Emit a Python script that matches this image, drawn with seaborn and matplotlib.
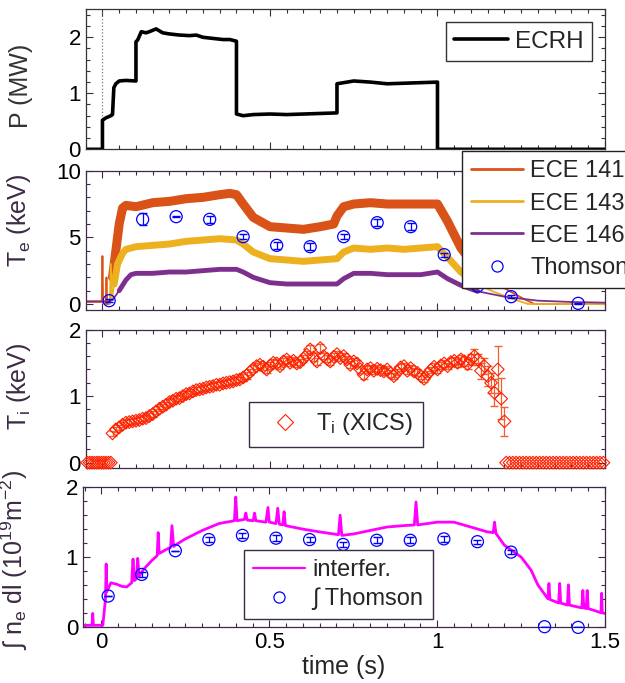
import numpy as np
import pandas as pd
import matplotlib
matplotlib.use('Agg')
import matplotlib.pyplot as plt
import seaborn as sns
from matplotlib.lines import Line2D
from matplotlib.ticker import MultipleLocator

# ECRH power (MW)
ecrh_t = [-0.05, 0.0, 0.0, 0.01, 0.025, 0.03, 0.034, 0.04, 0.05, 0.07, 0.1, 0.1, 0.105, 0.116, 0.13,
          0.14, 0.16, 0.18, 0.2, 0.23, 0.26, 0.28, 0.3, 0.33, 0.36, 0.38, 0.4, 0.4, 0.42, 0.45,
          0.5, 0.55, 0.6, 0.65, 0.7, 0.7, 0.72, 0.75, 0.8, 0.85, 0.9, 0.95, 1.0, 1.0, 1.5]
ecrh_p = [0, 0, 0.52, 0.56, 0.6, 0.62, 1.1, 1.17, 1.22, 1.23, 1.22, 1.92, 1.95, 2.1, 2.08,
          2.1, 2.15, 2.08, 2.06, 2.04, 2.03, 2.04, 2.0, 1.98, 1.96, 1.96, 1.93, 0.63, 0.6, 0.62,
          0.63, 0.62, 0.63, 0.64, 0.65, 1.17, 1.19, 1.22, 1.2, 1.17, 1.18, 1.19, 1.2, 0.0, 0.0]

# ECE electron temperature (keV)
ece141_t = [-0.05, -0.002, 0.0, 0.002, 0.01, 0.012, 0.014, 0.02, 0.03, 0.04, 0.05, 0.06, 0.07, 0.1, 0.15,
            0.2, 0.25, 0.3, 0.35, 0.38, 0.4, 0.42, 0.45, 0.5, 0.55, 0.6, 0.65, 0.69, 0.7, 0.72,
            0.75, 0.8, 0.85, 0.9, 0.95, 1.0, 1.03, 1.07, 1.12, 1.17, 1.22, 1.26, 1.29, 1.5]
ece141_v = [0.15, 0.15, 3.6, 0.1, 0.0, 2.0, 0.0, 0.0, 2.0, 4.0, 6.0, 7.2, 7.4, 7.3, 7.6,
            7.7, 7.9, 8.0, 8.2, 8.3, 8.2, 7.5, 6.5, 5.8, 5.7, 5.6, 5.8, 6.0, 6.6, 7.3,
            7.5, 7.6, 7.5, 7.5, 7.5, 7.5, 6.2, 4.2, 2.6, 1.6, 0.9, 0.35, 0.0, 0.0]
ece143_t = [-0.05, 0.018, 0.022, 0.025, 0.028, 0.035, 0.045, 0.06, 0.07, 0.1, 0.15, 0.2, 0.25,
            0.3, 0.35, 0.4, 0.42, 0.45, 0.5, 0.55, 0.6, 0.65, 0.7, 0.72, 0.75, 0.8, 0.85,
            0.9, 0.95, 1.0, 1.03, 1.07, 1.12, 1.16, 1.2, 1.24, 1.27, 1.5]
ece143_v = [0.2, 0.2, 0.0, 3.0, 0.3, 1.5, 3.0, 3.8, 4.1, 4.3, 4.4, 4.5, 4.7,
            4.8, 4.9, 4.8, 4.5, 3.9, 3.4, 3.3, 3.2, 3.3, 3.4, 3.9, 4.2, 4.1, 4.2,
            4.1, 4.2, 4.3, 3.5, 2.4, 1.5, 1.0, 0.6, 0.25, 0.0, 0.0]
ece146_t = [-0.05, 0.02, 0.03, 0.05, 0.07, 0.085, 0.1, 0.15, 0.2, 0.25, 0.3, 0.35, 0.4, 0.42,
            0.45, 0.5, 0.55, 0.6, 0.65, 0.7, 0.72, 0.75, 0.8, 0.85, 0.9, 0.95, 1.0, 1.03,
            1.07, 1.12, 1.2, 1.3, 1.4, 1.5]
ece146_v = [0.2, 0.2, 0.3, 1.0, 1.8, 2.2, 2.3, 2.3, 2.4, 2.4, 2.5, 2.6, 2.6, 2.4,
            2.0, 1.6, 1.5, 1.5, 1.5, 1.5, 1.9, 2.3, 2.3, 2.2, 2.2, 2.2, 2.4, 1.9,
            1.4, 0.95, 0.55, 0.25, 0.15, 0.1]

# Thomson scattering Te
ts_t = [0.02, 0.12, 0.22, 0.32, 0.42, 0.52, 0.62, 0.72, 0.82, 0.92, 1.02, 1.12, 1.22, 1.42]
ts_te = [0.25, 6.35, 6.55, 6.35, 5.05, 4.4, 4.3, 5.05, 6.1, 5.8, 3.7, 1.35, 0.55, 0.05]
ts_te_err = [0.1, 0.45, 0.05, 0.25, 0.2, 0.25, 0.25, 0.2, 0.25, 0.25, 0.15, 0.1, 0.1, 0.05]

# XICS ion temperature (keV)
ti_t = [0.03, 0.04, 0.05, 0.06, 0.07, 0.08, 0.09, 0.10, 0.11, 0.12,
        0.13, 0.14, 0.15, 0.16, 0.17, 0.18, 0.19, 0.20, 0.21, 0.22,
        0.23, 0.24, 0.25, 0.26, 0.27, 0.28, 0.29, 0.30, 0.31, 0.32,
        0.33, 0.34, 0.35, 0.36, 0.37, 0.38, 0.39, 0.40, 0.41, 0.42,
        0.43, 0.44, 0.45, 0.46, 0.47, 0.48, 0.49, 0.50, 0.51, 0.52,
        0.53, 0.54, 0.55, 0.56, 0.57, 0.58, 0.59, 0.60, 0.61, 0.62,
        0.63, 0.64, 0.65, 0.66, 0.67, 0.68, 0.69, 0.70, 0.71, 0.72,
        0.73, 0.74, 0.75, 0.76, 0.77, 0.78, 0.79, 0.80, 0.81, 0.82,
        0.83, 0.84, 0.85, 0.86, 0.87, 0.88, 0.89, 0.90, 0.91, 0.92,
        0.93, 0.94, 0.95, 0.96, 0.97, 0.98, 0.99, 1.00, 1.01, 1.02,
        1.03, 1.04, 1.05, 1.06, 1.07, 1.08, 1.09, 1.10, 1.11, 1.12,
        1.13, 1.14, 1.15, 1.16, 1.17, 1.18, 1.19, 1.20]
ti_v = [0.44, 0.50, 0.53, 0.57, 0.60, 0.61, 0.62, 0.63, 0.64, 0.66,
        0.67, 0.70, 0.73, 0.77, 0.81, 0.84, 0.87, 0.91, 0.93, 0.96,
        0.97, 1.00, 1.03, 1.04, 1.07, 1.09, 1.10, 1.11, 1.13, 1.14,
        1.15, 1.17, 1.17, 1.19, 1.20, 1.21, 1.22, 1.24, 1.25, 1.28,
        1.31, 1.36, 1.41, 1.45, 1.47, 1.44, 1.40, 1.46, 1.50, 1.49,
        1.45, 1.52, 1.55, 1.50, 1.53, 1.49, 1.51, 1.56, 1.62, 1.70,
        1.58, 1.52, 1.72, 1.60, 1.56, 1.52, 1.59, 1.63, 1.57, 1.60,
        1.55, 1.47, 1.52, 1.49, 1.40, 1.32, 1.40, 1.42, 1.38, 1.41,
        1.39, 1.37, 1.40, 1.34, 1.30, 1.36, 1.43, 1.45, 1.38, 1.42,
        1.37, 1.35, 1.30, 1.26, 1.33, 1.39, 1.44, 1.40, 1.46, 1.49,
        1.45, 1.51, 1.53, 1.50, 1.55, 1.52, 1.48, 1.55, 1.60, 1.55,
        1.38, 1.45, 1.30, 1.20, 1.05, 1.40, 0.96, 0.62]
ti_err = [0.04, 0.04, 0.04, 0.04, 0.04, 0.04, 0.04, 0.04, 0.04, 0.04,
          0.04, 0.04, 0.04, 0.04, 0.04, 0.04, 0.04, 0.04, 0.04, 0.04,
          0.04, 0.04, 0.04, 0.04, 0.04, 0.04, 0.04, 0.04, 0.04, 0.04,
          0.04, 0.04, 0.04, 0.04, 0.04, 0.04, 0.04, 0.04, 0.04, 0.05,
          0.05, 0.05, 0.05, 0.05, 0.05, 0.05, 0.05, 0.05, 0.05, 0.05,
          0.05, 0.05, 0.05, 0.05, 0.05, 0.05, 0.05, 0.05, 0.05, 0.06,
          0.06, 0.05, 0.06, 0.05, 0.05, 0.05, 0.05, 0.05, 0.05, 0.05,
          0.05, 0.05, 0.05, 0.05, 0.05, 0.06, 0.05, 0.05, 0.05, 0.05,
          0.05, 0.05, 0.05, 0.05, 0.05, 0.05, 0.05, 0.05, 0.05, 0.05,
          0.05, 0.05, 0.05, 0.05, 0.05, 0.05, 0.05, 0.05, 0.05, 0.05,
          0.05, 0.06, 0.06, 0.06, 0.07, 0.07, 0.08, 0.08, 0.10, 0.08,
          0.12, 0.12, 0.15, 0.15, 0.20, 0.35, 0.31, 0.22]
ti0_t = [-0.045, -0.038, -0.031, -0.024, -0.017, -0.010, -0.003, 0.004, 0.011, 0.018, 0.025,
         1.205, 1.215, 1.225, 1.235, 1.245, 1.255, 1.265, 1.275, 1.285, 1.295,
         1.305, 1.315, 1.325, 1.335, 1.345, 1.355, 1.365, 1.375, 1.385, 1.395,
         1.405, 1.415, 1.425, 1.435, 1.445, 1.455, 1.465, 1.475, 1.485, 1.495]
ti0_v = [0.0] * len(ti0_t)

# line-integrated density (1e19 m^-2)
interf_t = [-0.05, -0.028, -0.026, -0.024, 0.004, 0.012, 0.014, 0.016, 0.028, 0.045,
            0.06, 0.075, 0.09, 0.094, 0.098, 0.104, 0.108, 0.112, 0.125, 0.15,
            0.166, 0.169, 0.172, 0.19, 0.206, 0.21, 0.215, 0.22, 0.25, 0.3,
            0.35, 0.396, 0.4, 0.404, 0.426, 0.43, 0.434, 0.452, 0.456, 0.46,
            0.49, 0.496, 0.5, 0.52, 0.525, 0.53, 0.54, 0.544, 0.548, 0.6,
            0.65, 0.706, 0.711, 0.716, 0.75, 0.8, 0.85, 0.9, 0.932, 0.937,
            0.942, 1.0, 1.05, 1.1, 1.15, 1.167, 1.171, 1.175, 1.2, 1.25,
            1.28, 1.3, 1.33, 1.333, 1.336, 1.362, 1.365, 1.368, 1.388, 1.391,
            1.394, 1.431, 1.434, 1.437, 1.444, 1.447, 1.45, 1.47, 1.488, 1.49,
            1.492, 1.5]
interf_v = [0.02, 0.02, 0.19, 0.02, 0.02, 0.4, 0.9, 0.5, 0.63, 0.61,
            0.58, 0.57, 0.63, 0.97, 0.66, 0.69, 0.98, 0.72, 0.82, 0.95,
            1.02, 1.35, 1.05, 1.1, 1.14, 1.45, 1.15, 1.17, 1.26, 1.38,
            1.48, 1.52, 1.86, 1.52, 1.54, 1.63, 1.53, 1.52, 1.63, 1.52,
            1.5, 1.71, 1.5, 1.48, 1.7, 1.47, 1.46, 1.65, 1.45, 1.4,
            1.36, 1.32, 1.6, 1.31, 1.33, 1.38, 1.43, 1.45, 1.46, 1.79,
            1.46, 1.5, 1.5, 1.43, 1.36, 1.35, 1.5, 1.34, 1.17, 1.0,
            0.81, 0.6, 0.4, 0.62, 0.39, 0.34, 0.62, 0.34, 0.31, 0.6,
            0.31, 0.27, 0.52, 0.27, 0.26, 0.52, 0.26, 0.23, 0.2, 0.48,
            0.2, 0.19]
tsn_t = [0.02, 0.12, 0.22, 0.32, 0.42, 0.52, 0.62, 0.72, 0.82, 0.92, 1.02, 1.12, 1.22, 1.32, 1.42]
tsn_v = [0.44, 0.75, 1.09, 1.25, 1.31, 1.27, 1.25, 1.18, 1.24, 1.24, 1.26, 1.22, 1.07, 0.0, -0.01]
tsn_err = [0.0, 0.04, 0.0, 0.04, 0.04, 0.04, 0.04, 0.04, 0.04, 0.04, 0.04, 0.03, 0.03, 0.0, 0.0]

sns.set_style('ticks')
plt.rcParams['font.family'] = ['Liberation Sans', 'DejaVu Sans']
plt.rcParams['mathtext.fontset'] = 'custom'
plt.rcParams['mathtext.rm'] = 'Liberation Sans'
plt.rcParams['mathtext.it'] = 'Liberation Sans:italic'
plt.rcParams['mathtext.default'] = 'regular'

W, H = 625, 683
fig = plt.figure(figsize=(W / 100, H / 100), dpi=100)


def box(l, t, r, b):
    return [l / W, 1 - b / H, (r - l) / W, (b - t) / H]


ax1 = fig.add_axes(box(85.7, 9.3, 605, 149.3))
ax2 = fig.add_axes(box(85.7, 170.7, 605, 310))
ax3 = fig.add_axes(box(85.7, 329.5, 605, 468))
ax4 = fig.add_axes(box(83, 487.3, 605, 626.7))

dark = '#333333'
purp = '#3d2a45'


def style(ax, ylim, major, minor, edge, label, ly):
    ax.set_xlim(-0.05, 1.5)
    ax.set_ylim(*ylim)
    ax.xaxis.set_major_locator(MultipleLocator(0.5))
    ax.xaxis.set_minor_locator(MultipleLocator(0.05))
    ax.yaxis.set_major_locator(MultipleLocator(major))
    ax.yaxis.set_minor_locator(MultipleLocator(minor))
    ax.tick_params(which='both', direction='in', top=True, right=True, color=edge,
                   width=0.8, labelsize=16, labelcolor='black')
    ax.tick_params(which='major', length=5)
    ax.tick_params(which='minor', length=3)
    for s in ax.spines.values():
        s.set_color(edge)
        s.set_linewidth(0.9)
    ax.set_xlabel('')
    ax.set_ylabel(label, fontsize=18, color=edge)
    ax.yaxis.set_label_coords(-0.101, ly)


# panel 1: ECRH
ax1.axvline(0, color='#777777', lw=0.9, ls=':')
sns.lineplot(data=pd.DataFrame({'t': ecrh_t, 'p': ecrh_p}), x='t', y='p', sort=False,
             estimator=None, color='black', lw=2.6, ax=ax1, label='ECRH')
style(ax1, (0, 2.5), 1, 0.2, dark, 'P (MW)', 0.45)
ax1.set_xticklabels([])
ax1.legend(loc='upper left', bbox_to_anchor=(445.7 / W, 1 - 22 / H), bbox_transform=fig.transFigure,
           fontsize=17.5, frameon=True, fancybox=False, edgecolor=dark, framealpha=1,
           borderpad=0.35, handlelength=2.2, handletextpad=0.3, borderaxespad=0)

# panel 2: Te  (thin full trace + thick noisy band during the plasma phase)
for tt, vv, c, w, t0 in [(ece141_t, ece141_v, '#D95319', 6.5, 0.03),
                         (ece143_t, ece143_v, '#EDB120', 5.0, 0.035),
                         (ece146_t, ece146_v, '#7E2F8E', 3.5, 0.05)]:
    df = pd.DataFrame({'t': tt, 'v': vv})
    sns.lineplot(data=df, x='t', y='v', sort=False, estimator=None, color=c, lw=1.3, ax=ax2)
    band = df[(df.t >= t0) & (df.t <= 1.12)]
    sns.lineplot(data=band, x='t', y='v', sort=False, estimator=None, color=c, lw=w, ax=ax2)
ax2.errorbar(ts_t, ts_te, yerr=ts_te_err, fmt='none', ecolor='#0000FF', elinewidth=0.9, capsize=3, zorder=4)
sns.scatterplot(x=ts_t, y=ts_te, marker='o', s=75, facecolor='none', edgecolor='#0000FF',
                linewidth=0.9, ax=ax2, zorder=5)
style(ax2, (-0.45, 10), 5, 1, purp, 'T$_e$ (keV)', 0.64)
ax2.set_xticklabels([])
h2 = [Line2D([], [], color='#D95319', lw=2), Line2D([], [], color='#EDB120', lw=2),
      Line2D([], [], color='#7E2F8E', lw=2),
      Line2D([], [], ls='none', marker='o', ms=8, mfc='none', mec='#0000FF', mew=0.9)]
ax2.legend(h2, ['ECE 141', 'ECE 143', 'ECE 146', 'Thomson'], loc='upper left',
           bbox_to_anchor=(461.7 / W, 1 - 151 / H), bbox_transform=fig.transFigure,
           fontsize=17, frameon=True, fancybox=False, edgecolor='#222222', framealpha=1,
           borderpad=0.4, labelspacing=0.43, handlelength=2.2, handletextpad=0.3, borderaxespad=0)

# panel 3: Ti
ax3.errorbar(ti_t, ti_v, yerr=ti_err, fmt='none', ecolor='#F06030', elinewidth=0.9, capsize=3, zorder=3)
sns.scatterplot(x=ti_t, y=ti_v, marker='D', s=42, facecolor='none', edgecolor='#FF2000',
                linewidth=0.8, ax=ax3, zorder=4)
sns.scatterplot(x=ti0_t, y=ti0_v, marker='D', s=42, facecolor='none', edgecolor='#FF2000',
                linewidth=0.8, ax=ax3, zorder=4, clip_on=False)
style(ax3, (-0.08, 2), 1, 0.2, purp, 'T$_i$ (keV)', 0.59)
ax3.set_xticklabels([])
h3 = [Line2D([], [], ls='none', marker='D', ms=8, mfc='none', mec='#FF2000', mew=0.8)]
ax3.legend(h3, ['T$_i$ (XICS)'], loc='upper left',
           bbox_to_anchor=(249 / W, 1 - 401.7 / H), bbox_transform=fig.transFigure,
           fontsize=17, frameon=True, fancybox=False, edgecolor=purp, framealpha=1,
           borderpad=0.4, handlelength=2.25, handletextpad=0.2, borderaxespad=0)

# panel 4: density
sns.lineplot(data=pd.DataFrame({'t': interf_t, 'v': interf_v}), x='t', y='v', sort=False,
             estimator=None, color='#FF00FF', lw=2.0, ax=ax4)
ax4.errorbar(tsn_t, tsn_v, yerr=tsn_err, fmt='none', ecolor='#0000FF', elinewidth=0.9, capsize=3, zorder=4)
sns.scatterplot(x=tsn_t, y=tsn_v, marker='o', s=75, facecolor='none', edgecolor='#0000FF',
                linewidth=0.9, ax=ax4, zorder=5, clip_on=False)
style(ax4, (0, 2), 1, 0.2, purp, '\u222b n$_e$ dl (10$^{19}$m$^{-2}$)', 0.48)
ax4.set_xlim(-0.055, 1.5)
ax4.set_xticks([0, 0.5, 1, 1.5])
ax4.set_xticklabels(['0', '0.5', '1', '1.5'])
ax4.set_xlabel('time (s)', fontsize=18, labelpad=2)
h4 = [Line2D([], [], color='#FF00FF', lw=1.6),
      Line2D([], [], ls='none', marker='o', ms=8, mfc='none', mec='#0000FF', mew=0.9)]
ax4.legend(h4, ['interfer.', '\u222b Thomson'], loc='upper left',
           bbox_to_anchor=(244 / W, 1 - 550 / H), bbox_transform=fig.transFigure,
           fontsize=17, frameon=True, fancybox=False, edgecolor=purp, framealpha=1,
           borderpad=0.4, labelspacing=0.25, handlelength=2.2, handletextpad=0.3, borderaxespad=0)

fig.savefig('out.png', dpi=100)
